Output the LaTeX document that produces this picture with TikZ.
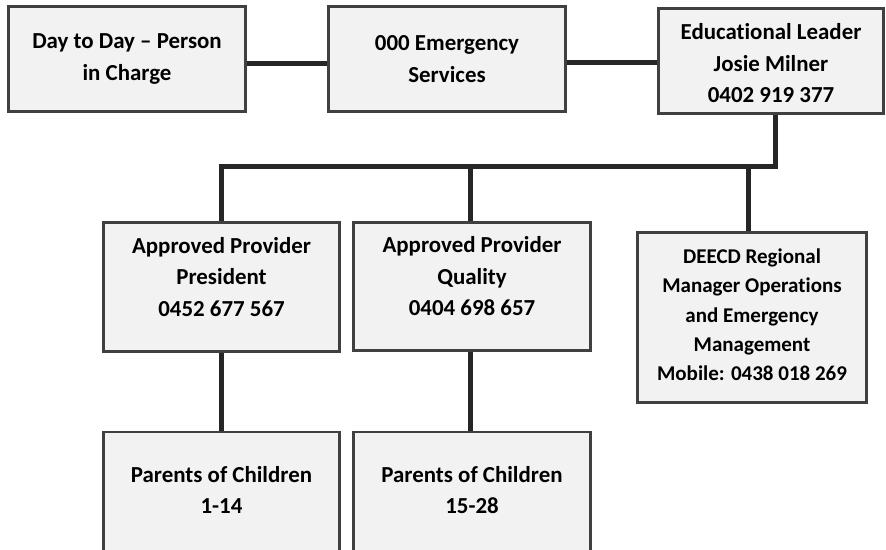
\documentclass[tikz,border=0pt]{standalone}
\usepackage{fontspec}
\setmainfont[Ligatures={TeX,NoCommon}]{Carlito}
\usetikzlibrary{shadows}
\definecolor{boxfill}{HTML}{F2F2F2}
\definecolor{boxline}{HTML}{404040}
\definecolor{connline}{HTML}{262626}
\begin{document}
\begin{tikzpicture}[x=1pt,y=-1pt,
  box/.style={draw=boxline, line width=2.6pt, fill=boxfill, rectangle, inner sep=0pt,
    drop shadow={shadow xshift=1.2pt, shadow yshift=-1.2pt, opacity=0.25, fill=black}},
  txt/.style={font=\fontsize{22.9pt}{31.5pt}\selectfont\bfseries, align=center, text=black, inner sep=0pt},
  conn/.style={draw=connline, line width=5pt, line join=miter}]
\useasboundingbox (0,0) rectangle (886,549);
\clip (0,0) rectangle (886,549);
% boxes
\node[box, minimum width=237, minimum height=105] (b1) at (127,59) {};
\node[box, minimum width=237, minimum height=105] (b2) at (447,59) {};
\node[box, minimum width=225, minimum height=105] (b3) at (771,61) {};
\node[box, minimum width=236, minimum height=129] (p1) at (221.5,287) {};
\node[box, minimum width=237, minimum height=128] (p2) at (472,286.5) {};
\node[box, minimum width=229, minimum height=170] (d) at (752,317.5) {};
\node[box, minimum width=236, minimum height=130] (c1) at (221.5,497) {};
\node[box, minimum width=237, minimum height=130] (c2) at (472,497) {};
% connectors
\coordinate (busR) at (775,166);
\coordinate (busL) at (221.5,166);
\draw[conn] ([yshift=-4]b1.east) -- ([yshift=-4]b2.west);
\draw[conn] ([yshift=-3]b2.east) -- ([yshift=-1]b3.west);
\draw[conn] ([xshift=4]b3.south) -- (busR) -- (busL) -- (p1.north);
\draw[conn] ([xshift=-2]p2.north |- busL) -- ([xshift=-2]p2.north);
\draw[conn] ([xshift=-4]d.north |- busL) -- ([xshift=-4]d.north);
\draw[conn] (p1.south) -- (c1.north);
\draw[conn] ([xshift=-2]p2.south) -- ([xshift=-2]c2.north);
% texts
\node[txt] (b1t) at (b1.center) {Day to Day – Person\\in Charge};
\node[txt] (b2t) at (b2.center) {000 Emergency\\Services};
\node[txt] (b3t) at ([yshift=-2.5]b3.center) {Educational Leader\\Josie Milner\\0402 919 377};
\node[txt] (p1t) at ([yshift=10]p1.center) {Approved Provider\\President\\0452 677 567};
\node[txt] (p2t) at ([yshift=10]p2.center) {Approved Provider\\Quality\\0404 698 657};
\node[txt, font=\fontsize{21pt}{29.3pt}\selectfont\bfseries] (dt) at ([yshift=2.5]d.center) {DEECD Regional\\Manager Operations\\and Emergency\\Management\\Mobile: 0438 018 269};
\node[txt] (c1t) at ([yshift=7]c1.center) {Parents of Children\\1-14};
\node[txt] (c2t) at ([yshift=7]c2.center) {Parents of Children\\15-28};
\end{tikzpicture}
\end{document}
